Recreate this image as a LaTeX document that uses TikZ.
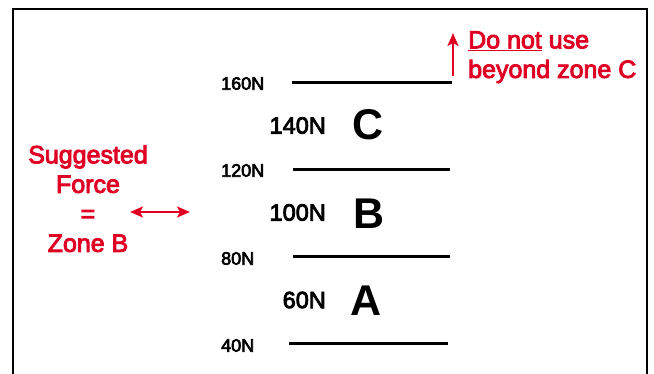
\documentclass[tikz,border=0pt]{standalone}
\usepackage{fontspec}
\setmainfont{Liberation Sans}
\newfontfamily\medfont[FakeBold=3.5]{Liberation Sans}
\usetikzlibrary{arrows.meta}
\definecolor{warnred}{RGB}{224,0,36}
\tikzset{
  frameline/.style={line width=2.5pt},
  levelline/.style={line width=3pt},
  smalllbl/.style={anchor=west,inner sep=0pt,font=\medfont\fontsize{18}{18}\selectfont},
  biglbl/.style={anchor=east,inner sep=0pt,font=\medfont\fontsize{23.5}{23.5}\selectfont},
  zonelbl/.style={anchor=center,inner sep=0pt,font=\bfseries\fontsize{43}{43}\selectfont},
  redtxt/.style={inner sep=0pt,text=warnred,font=\medfont\fontsize{25}{29.5}\selectfont},
  redarrow/.style={warnred,line width=2pt},
  redtip/.tip={Stealth[length=13pt,width=11pt,inset=3pt]}
}
\begin{document}
\begin{tikzpicture}[x=1pt,y=-1pt]
\useasboundingbox (0,0) rectangle (654,374);
% frame
\draw[frameline] (13,376) -- (13,9) -- (647,9) -- (647,376);
% level lines
\coordinate (l160a) at (292,83); \coordinate (l160b) at (452,83);
\coordinate (l120a) at (293,170); \coordinate (l120b) at (450,170);
\coordinate (l80a) at (293,257); \coordinate (l80b) at (450,257);
\coordinate (l40a) at (289,344); \coordinate (l40b) at (448,344);
\draw[levelline] (l160a) -- (l160b);
\draw[levelline] (l120a) -- (l120b);
\draw[levelline] (l80a) -- (l80b);
\draw[levelline] (l40a) -- (l40b);
% small labels
\node[smalllbl] (n160) at (221,83.5) {160N};
\node[smalllbl] (n120) at (221,170.5) {120N};
\node[smalllbl] (n80) at (221,258.5) {80N};
\node[smalllbl] (n40) at (221,345.5) {40N};
% mid labels
\node[biglbl] (n140) at (326,125.5) {140N};
\node[biglbl] (n100) at (326,212.5) {100N};
\node[biglbl] (n60) at (326,300) {60N};
% zone letters
\node[zonelbl] (zc) at (368,125) {C};
\node[zonelbl] (zb) at (369,214) {B};
\node[zonelbl] (za) at (366,301) {A};
% red texts
\node[redtxt,anchor=north,align=center] (sugg) at (88,145) {Suggested\\Force\\=\\Zone B};
\node[redtxt,anchor=north west,align=left] (warn) at (468,31) {\underline{Do not} use\\beyond zone C};
% red arrows
\coordinate (da1) at (130,212); \coordinate (da2) at (190,212);
\draw[redarrow,redtip-redtip] (da1) -- (da2);
\coordinate (ua1) at (453,76); \coordinate (ua2) at (453,33);
\draw[redarrow,-redtip] (ua1) -- (ua2);
\end{tikzpicture}
\end{document}
